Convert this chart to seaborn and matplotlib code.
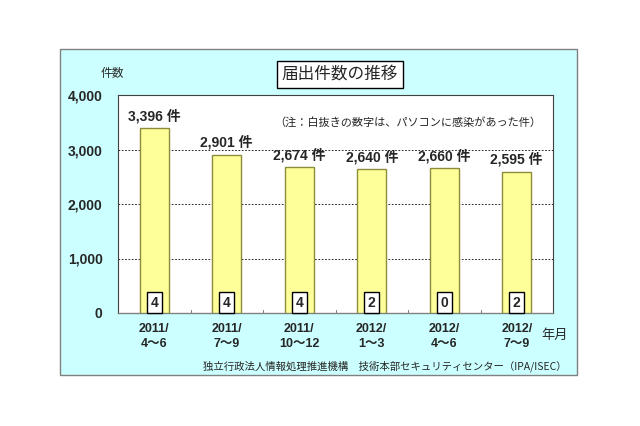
import matplotlib
matplotlib.use("Agg")
import matplotlib.pyplot as plt
import seaborn as sns
import pandas as pd
from matplotlib.patches import Rectangle

# ----------------------------------------
# Data
# ----------------------------------------

periods = ["2011/\n4～6", "2011/\n7～9", "2011/\n10～12",
           "2012/\n1～3", "2012/\n4～6", "2012/\n7～9"]
reports = [3396, 2901, 2674, 2640, 2660, 2595]
infected = [4, 4, 4, 2, 0, 2]
y_ticks = [0, 1000, 2000, 3000, 4000]

df = pd.DataFrame({"period": periods, "reports": reports})

# ----------------------------------------
# Style
# ----------------------------------------

sns.set_style("white")
plt.rcParams["font.family"] = ["Noto Sans CJK JP", "DejaVu Sans"]
NUM_FONT = ["Liberation Sans", "Noto Sans CJK JP"]

CYAN = "#CCFFFF"
BAR = "#FFFF99"
BAR_EDGE = "#8C8C3C"

fig = plt.figure(figsize=(6.4, 4.26), dpi=100)
fig.patch.set_facecolor("white")

W, H = 640, 426

# cyan panel behind the chart
fig.patches.append(Rectangle((60 / W, 1 - 375 / H), 517 / W, 326 / H,
                             transform=fig.transFigure, facecolor=CYAN,
                             edgecolor="#808080", linewidth=1, zorder=-5))

ax = fig.add_axes([118 / W, 1 - 313 / H, 435 / W, 218 / H])
ax.set_zorder(2)
ax.set_facecolor("white")

sns.barplot(data=df, x="period", y="reports", color=BAR, width=0.4,
            edgecolor=BAR_EDGE, linewidth=1, saturation=1, ax=ax, zorder=3)

ax.set_ylim(0, 4000)
ax.set_xlim(-0.5, len(periods) - 0.5)
ax.set_yticks(y_ticks)
ax.set_yticklabels([f"{v:,}" for v in y_ticks], fontweight="bold",
                   fontsize=10, family=NUM_FONT)
ax.set_xticks(range(len(periods)))
ax.set_xticklabels(periods, fontweight="bold", fontsize=9,
                   family=NUM_FONT, linespacing=1.35)
ax.tick_params(axis="x", length=0, pad=7)
ax.tick_params(axis="y", length=0, pad=11)
ax.set_xlabel("")
ax.set_ylabel("")

# gridlines
for v in y_ticks[1:-1]:
    ax.axhline(v, color="black", linestyle=(0, (2, 2)), linewidth=0.6, zorder=1)

# inward ticks at category boundaries
for b in range(1, len(periods)):
    ax.plot([b - 0.5, b - 0.5], [0, 60], color="#808080", linewidth=0.8,
            zorder=2, clip_on=False)

for side in ["left", "top", "right"]:
    ax.spines[side].set_color("#404040")
    ax.spines[side].set_linewidth(0.8)
ax.spines["bottom"].set_color("#808080")
ax.spines["bottom"].set_linewidth(1)

# value labels and boxed infection counts
for i, (r, n) in enumerate(zip(reports, infected)):
    ax.text(i, r + 90, f"{r:,} 件", ha="center", va="bottom",
            fontsize=10, fontweight="bold", family=NUM_FONT)
    ax.text(i, 185, str(n), ha="center", va="center", fontsize=10,
            fontweight="bold", zorder=5, family=NUM_FONT,
            bbox=dict(boxstyle="square,pad=0.25", facecolor="white",
                      edgecolor="black", linewidth=1))

# texts
fig.text(340 / W, 1 - 74 / H, "届出件数の推移", ha="center", va="center",
         fontsize=12,
         bbox=dict(boxstyle="square,pad=0.3", facecolor="white",
                   edgecolor="black", linewidth=1))
fig.text(112 / W, 1 - 74 / H, "件数", ha="center", va="center", fontsize=8.5)
fig.text(541 / W, 1 - 122 / H, "（注：白抜きの数字は、パソコンに感染があった件）",
         ha="right", va="center", fontsize=8, zorder=10)
fig.text(555 / W, 1 - 335 / H, "年月", ha="center", va="center", fontsize=9.5)
fig.text(567 / W, 1 - 366 / H,
         "独立行政法人情報処理推進機構　技術本部セキュリティセンター（IPA/ISEC）",
         ha="right", va="center", fontsize=7.5)

fig.savefig("out.png", dpi=100)
